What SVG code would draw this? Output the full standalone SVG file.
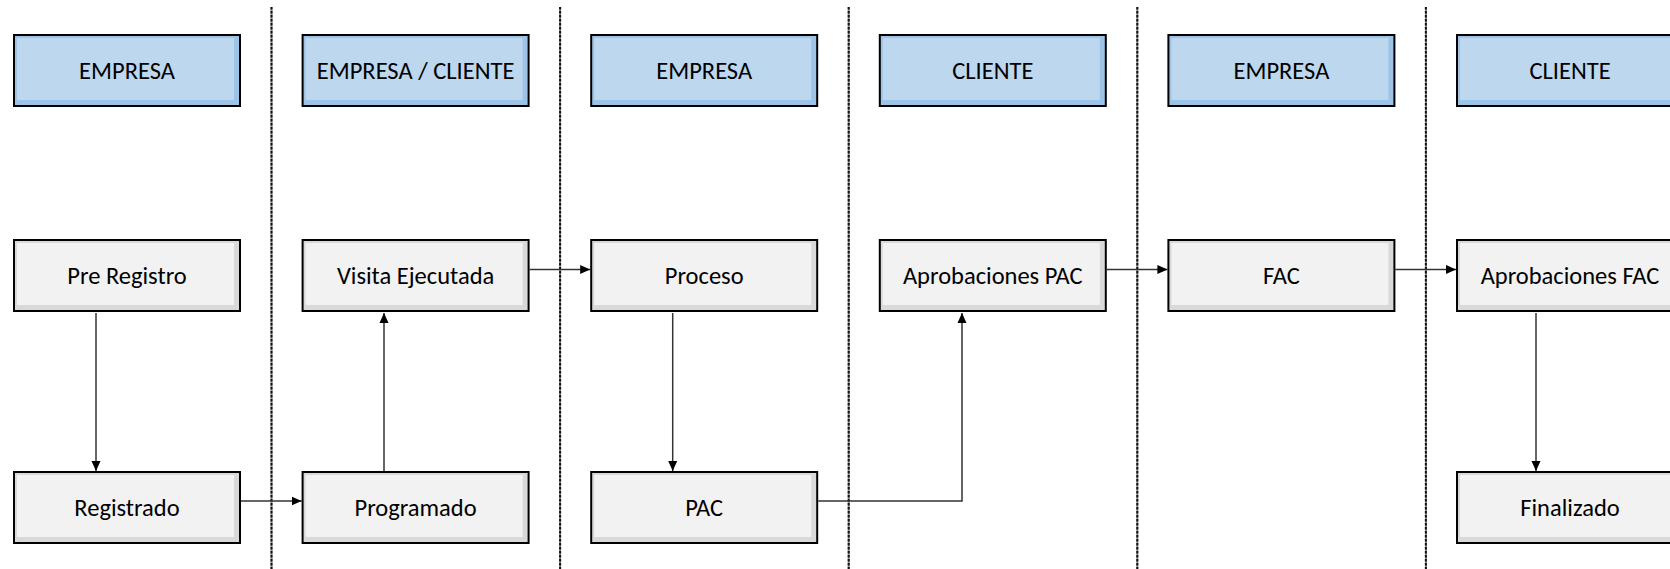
<svg xmlns="http://www.w3.org/2000/svg" width="1670" height="569" viewBox="0 0 1670 569">
<style>
.hdr-o{fill:#9DC3E6;stroke:#000;stroke-width:2}
.hdr-i{fill:#BDD7EE}
.box-o{fill:#D9D9D9;stroke:#000;stroke-width:2}
.box-i{fill:#F2F2F2}
.t{font-family:Carlito,Lato,"Liberation Sans",sans-serif;font-size:24.5px;fill:#000;text-anchor:middle;dominant-baseline:central}
.div-b{stroke:#8a8a8a;stroke-width:2}
.div-d{stroke:#111;stroke-width:2;stroke-dasharray:2.5 1.5}
.c{fill:none;stroke:#333;stroke-width:1.5}
</style>
<defs>
<marker id="ah" markerUnits="userSpaceOnUse" markerWidth="10" markerHeight="10" refX="10" refY="5" orient="auto">
<path d="M0,0.5 L10,5 L0,9.5 z" fill="#000"/>
</marker>
</defs>
<rect width="1670" height="569" fill="#fff"/>
<g id="dividers">
<line class="div-b" x1="271.5" y1="7" x2="271.5" y2="569"/><line class="div-d" x1="271.5" y1="7" x2="271.5" y2="569"/>
<line class="div-b" x1="560.1" y1="7" x2="560.1" y2="569"/><line class="div-d" x1="560.1" y1="7" x2="560.1" y2="569"/>
<line class="div-b" x1="848.7" y1="7" x2="848.7" y2="569"/><line class="div-d" x1="848.7" y1="7" x2="848.7" y2="569"/>
<line class="div-b" x1="1137.3" y1="7" x2="1137.3" y2="569"/><line class="div-d" x1="1137.3" y1="7" x2="1137.3" y2="569"/>
<line class="div-b" x1="1425.9" y1="7" x2="1425.9" y2="569"/><line class="div-d" x1="1425.9" y1="7" x2="1425.9" y2="569"/>
</g>
<g id="connectors">
<line class="c" x1="96" y1="313" x2="96" y2="471" marker-end="url(#ah)"/>
<line class="c" x1="241" y1="501" x2="301.6" y2="501" marker-end="url(#ah)"/>
<line class="c" x1="384" y1="471" x2="384" y2="313" marker-end="url(#ah)"/>
<line class="c" x1="529.6" y1="269.5" x2="590.2" y2="269.5" marker-end="url(#ah)"/>
<line class="c" x1="672.7" y1="313" x2="672.7" y2="471" marker-end="url(#ah)"/>
<polyline class="c" points="818.2,501 962,501 962,313" marker-end="url(#ah)"/>
<line class="c" x1="1106.8" y1="269.5" x2="1167.4" y2="269.5" marker-end="url(#ah)"/>
<line class="c" x1="1395.4" y1="269.5" x2="1456" y2="269.5" marker-end="url(#ah)"/>
<line class="c" x1="1536" y1="313" x2="1536" y2="471" marker-end="url(#ah)"/>
</g>
<g id="h1"><rect class="hdr-o" x="14" y="35" width="226" height="71"/><rect class="hdr-i" x="17" y="38" width="217" height="62"/><text class="t" x="127" y="71">EMPRESA</text></g>
<g id="h2"><rect class="hdr-o" x="302.6" y="35" width="226" height="71"/><rect class="hdr-i" x="305.6" y="38" width="217" height="62"/><text class="t" x="415.6" y="71">EMPRESA / CLIENTE</text></g>
<g id="h3"><rect class="hdr-o" x="591.2" y="35" width="226" height="71"/><rect class="hdr-i" x="594.2" y="38" width="217" height="62"/><text class="t" x="704.2" y="71">EMPRESA</text></g>
<g id="h4"><rect class="hdr-o" x="879.8" y="35" width="226" height="71"/><rect class="hdr-i" x="882.8" y="38" width="217" height="62"/><text class="t" x="992.8" y="71">CLIENTE</text></g>
<g id="h5"><rect class="hdr-o" x="1168.4" y="35" width="226" height="71"/><rect class="hdr-i" x="1171.4" y="38" width="217" height="62"/><text class="t" x="1281.4" y="71">EMPRESA</text></g>
<g id="h6"><rect class="hdr-o" x="1457" y="35" width="226" height="71"/><rect class="hdr-i" x="1460" y="38" width="217" height="62"/><text class="t" x="1570" y="71">CLIENTE</text></g>
<g id="n-preregistro"><rect class="box-o" x="14" y="240" width="226" height="71"/><rect class="box-i" x="17" y="243" width="217" height="62"/><text class="t" x="127" y="276">Pre Registro</text></g>
<g id="n-visita"><rect class="box-o" x="302.6" y="240" width="226" height="71"/><rect class="box-i" x="305.6" y="243" width="217" height="62"/><text class="t" x="415.6" y="276">Visita Ejecutada</text></g>
<g id="n-proceso"><rect class="box-o" x="591.2" y="240" width="226" height="71"/><rect class="box-i" x="594.2" y="243" width="217" height="62"/><text class="t" x="704.2" y="276">Proceso</text></g>
<g id="n-aprobpac"><rect class="box-o" x="879.8" y="240" width="226" height="71"/><rect class="box-i" x="882.8" y="243" width="217" height="62"/><text class="t" x="992.8" y="276">Aprobaciones PAC</text></g>
<g id="n-fac"><rect class="box-o" x="1168.4" y="240" width="226" height="71"/><rect class="box-i" x="1171.4" y="243" width="217" height="62"/><text class="t" x="1281.4" y="276">FAC</text></g>
<g id="n-aprobfac"><rect class="box-o" x="1457" y="240" width="226" height="71"/><rect class="box-i" x="1460" y="243" width="217" height="62"/><text class="t" x="1570" y="276">Aprobaciones FAC</text></g>
<g id="n-registrado"><rect class="box-o" x="14" y="472" width="226" height="71"/><rect class="box-i" x="17" y="475" width="217" height="62"/><text class="t" x="127" y="508">Registrado</text></g>
<g id="n-programado"><rect class="box-o" x="302.6" y="472" width="226" height="71"/><rect class="box-i" x="305.6" y="475" width="217" height="62"/><text class="t" x="415.6" y="508">Programado</text></g>
<g id="n-pac"><rect class="box-o" x="591.2" y="472" width="226" height="71"/><rect class="box-i" x="594.2" y="475" width="217" height="62"/><text class="t" x="704.2" y="508">PAC</text></g>
<g id="n-finalizado"><rect class="box-o" x="1457" y="472" width="226" height="71"/><rect class="box-i" x="1460" y="475" width="217" height="62"/><text class="t" x="1570" y="508">Finalizado</text></g>
</svg>
